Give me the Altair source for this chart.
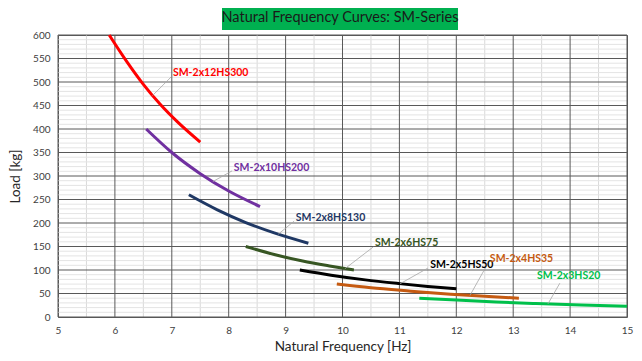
import altair as alt
import pandas as pd
import numpy as np

# ---- data ----
series_names = ["SM-2x12HS300", "SM-2x10HS200", "SM-2x8HS130", "SM-2x6HS75",
                "SM-2x5HS50", "SM-2x4HS35", "SM-2x3HS20"]
series_colors = ["#FF0000", "#7030A0", "#1F3864", "#375623", "#000000", "#C55A11", "#00C04B"]

freq_12HS300 = [5.90, 6.20, 6.50, 6.80, 7.10, 7.50]
load_12HS300 = [600, 545, 495, 452, 415, 372]
freq_10HS200 = [6.55, 7.00, 7.50, 8.00, 8.55]
load_10HS200 = [400, 350, 305, 268, 235]
freq_8HS130 = [7.30, 7.80, 8.30, 8.80, 9.40]
load_8HS130 = [260, 228, 201, 179, 157]
freq_6HS75 = [8.30, 8.80, 9.30, 9.80, 10.20]
load_6HS75 = [150, 133, 119, 108, 100]
freq_5HS50 = [9.25, 9.80, 10.40, 11.00, 11.50, 12.00]
load_5HS50 = [100, 89, 79, 71, 65, 60]
freq_4HS35 = [9.90, 10.50, 11.20, 11.90, 12.50, 13.10]
load_4HS35 = [70, 62, 55, 48.5, 44, 40]
freq_3HS20 = [11.35, 12.00, 12.70, 13.40, 14.20, 15.00]
load_3HS20 = [40, 36, 32, 28.7, 25.5, 23]

all_freq = [freq_12HS300, freq_10HS200, freq_8HS130, freq_6HS75, freq_5HS50, freq_4HS35, freq_3HS20]
all_load = [load_12HS300, load_10HS200, load_8HS130, load_6HS75, load_5HS50, load_4HS35, load_3HS20]

# data-label anchors (text left, leader start, leader end on curve)
label_f = [7.02, 8.09, 9.18, 10.57, 11.54, 12.59, 13.42]
label_l = [519, 317, 211, 157, 111, 123, 87]
leader_f1 = [6.99, 8.06, 9.15, 10.54, 11.50, 12.56, 13.82]
leader_l1 = [511, 311, 204, 149, 104, 115, 72]
leader_f2 = [6.66, 7.72, 8.87, 10.04, 11.01, 12.24, 13.61]
leader_l2 = [471, 288, 176, 102.5, 70.6, 45.8, 27.8]

x_ticks = list(range(5, 16))
y_ticks = list(range(0, 601, 50))
x_minor = [v + 0.5 for v in range(5, 15)]
y_minor = [v for v in range(0, 601, 10) if v % 50 != 0]

title_text = "Natural Frequency Curves: SM-Series"
FONT = "Lato"

rows = []
for n, fs, ls in zip(series_names, all_freq, all_load):
    for i, (f, l) in enumerate(zip(fs, ls)):
        rows.append({"series": n, "freq": f, "load": l, "order": i})
df = pd.DataFrame(rows)

lab = pd.DataFrame({"series": series_names, "f": label_f, "l": label_l,
                    "f1": leader_f1, "l1": leader_l1, "f2": leader_f2, "l2": leader_l2})

xs = alt.Scale(domain=[5, 15], nice=False, zero=False)
ys = alt.Scale(domain=[0, 600], nice=False)
cs = alt.Scale(domain=series_names, range=series_colors)

XAX = alt.Axis(values=x_ticks, format="d", title="Natural Frequency [Hz]", grid=False, ticks=False,
               domain=False, labelPadding=8, labelFontSize=10, labelColor="#404040",
               labelOverlap=False, labelFlush=False,
               titleFontSize=13.5, titleFontWeight="normal", titleColor="#262626",
               titlePadding=4, labelFont=FONT, titleFont=FONT)
YAX = alt.Axis(values=y_ticks, format="d", title="Load [kg]", grid=False, ticks=False, domain=False,
               labelPadding=8, labelFontSize=10, labelColor="#404040",
               labelOverlap=False, labelFlush=False,
               titleFontSize=13.5, titleFontWeight="normal", titleColor="#262626",
               titlePadding=10, labelFont=FONT, titleFont=FONT)

minor_x = alt.Chart(pd.DataFrame({"v": x_minor})).mark_rule(color="#D9D9D9", strokeWidth=1).encode(
    x=alt.X("v:Q", scale=xs, axis=XAX, title="Natural Frequency [Hz]"))
minor_y = alt.Chart(pd.DataFrame({"v": y_minor})).mark_rule(color="#E4E4E4", strokeWidth=1).encode(
    y=alt.Y("v:Q", scale=ys, axis=YAX, title="Load [kg]"))
major_x = alt.Chart(pd.DataFrame({"v": x_ticks})).mark_rule(color="#595959", strokeWidth=1).encode(
    x=alt.X("v:Q", scale=xs, axis=XAX, title="Natural Frequency [Hz]"))
major_y = alt.Chart(pd.DataFrame({"v": y_ticks})).mark_rule(color="#595959", strokeWidth=1).encode(
    y=alt.Y("v:Q", scale=ys, axis=YAX, title="Load [kg]"))

lines = alt.Chart(df).mark_line(strokeWidth=3, interpolate="monotone").encode(
    x=alt.X("freq:Q", scale=xs, axis=XAX, title="Natural Frequency [Hz]"),
    y=alt.Y("load:Q", scale=ys, axis=YAX, title="Load [kg]"),
    color=alt.Color("series:N", scale=cs, legend=None),
    detail="series:N",
    order="order:Q",
)

leaders = alt.Chart(lab).mark_rule(color="#A6A6A6", strokeWidth=0.8).encode(
    x=alt.X("f1:Q", scale=xs, axis=XAX, title="Natural Frequency [Hz]"),
    y=alt.Y("l1:Q", scale=ys, axis=YAX, title="Load [kg]"),
    x2="f2:Q", y2="l2:Q")

labels = alt.Chart(lab).mark_text(align="left", baseline="middle", font=FONT, fontSize=10.5,
                                  fontWeight="bold").encode(
    x=alt.X("f:Q", scale=xs, axis=XAX, title="Natural Frequency [Hz]"),
    y=alt.Y("l:Q", scale=ys, axis=YAX, title="Load [kg]"),
    text="series:N",
    color=alt.Color("series:N", scale=cs, legend=None))

title_box = alt.Chart(pd.DataFrame({"t": [title_text]})).mark_rect(color="#00B050").encode(
    x=alt.value(164), x2=alt.value(400), y=alt.value(-29), y2=alt.value(-5))
title = alt.Chart(pd.DataFrame({"t": [title_text]})).mark_text(
    font=FONT, fontSize=14.5, color="#1a1a1a", baseline="middle", align="center").encode(
    x=alt.value(282), y=alt.value(-17), text="t:N")

chart = alt.layer(minor_x, minor_y, major_x, major_y, lines, leaders, labels, title_box, title).properties(
    width=569, height=282,
    autosize=alt.AutoSizeParams(type="none"),
    padding={"left": 50, "top": 27, "right": 7, "bottom": 36},
    background="white",
).configure_view(stroke="#595959", strokeWidth=1)

chart.save("out.html", embed_options={"renderer": "svg", "actions": False})
